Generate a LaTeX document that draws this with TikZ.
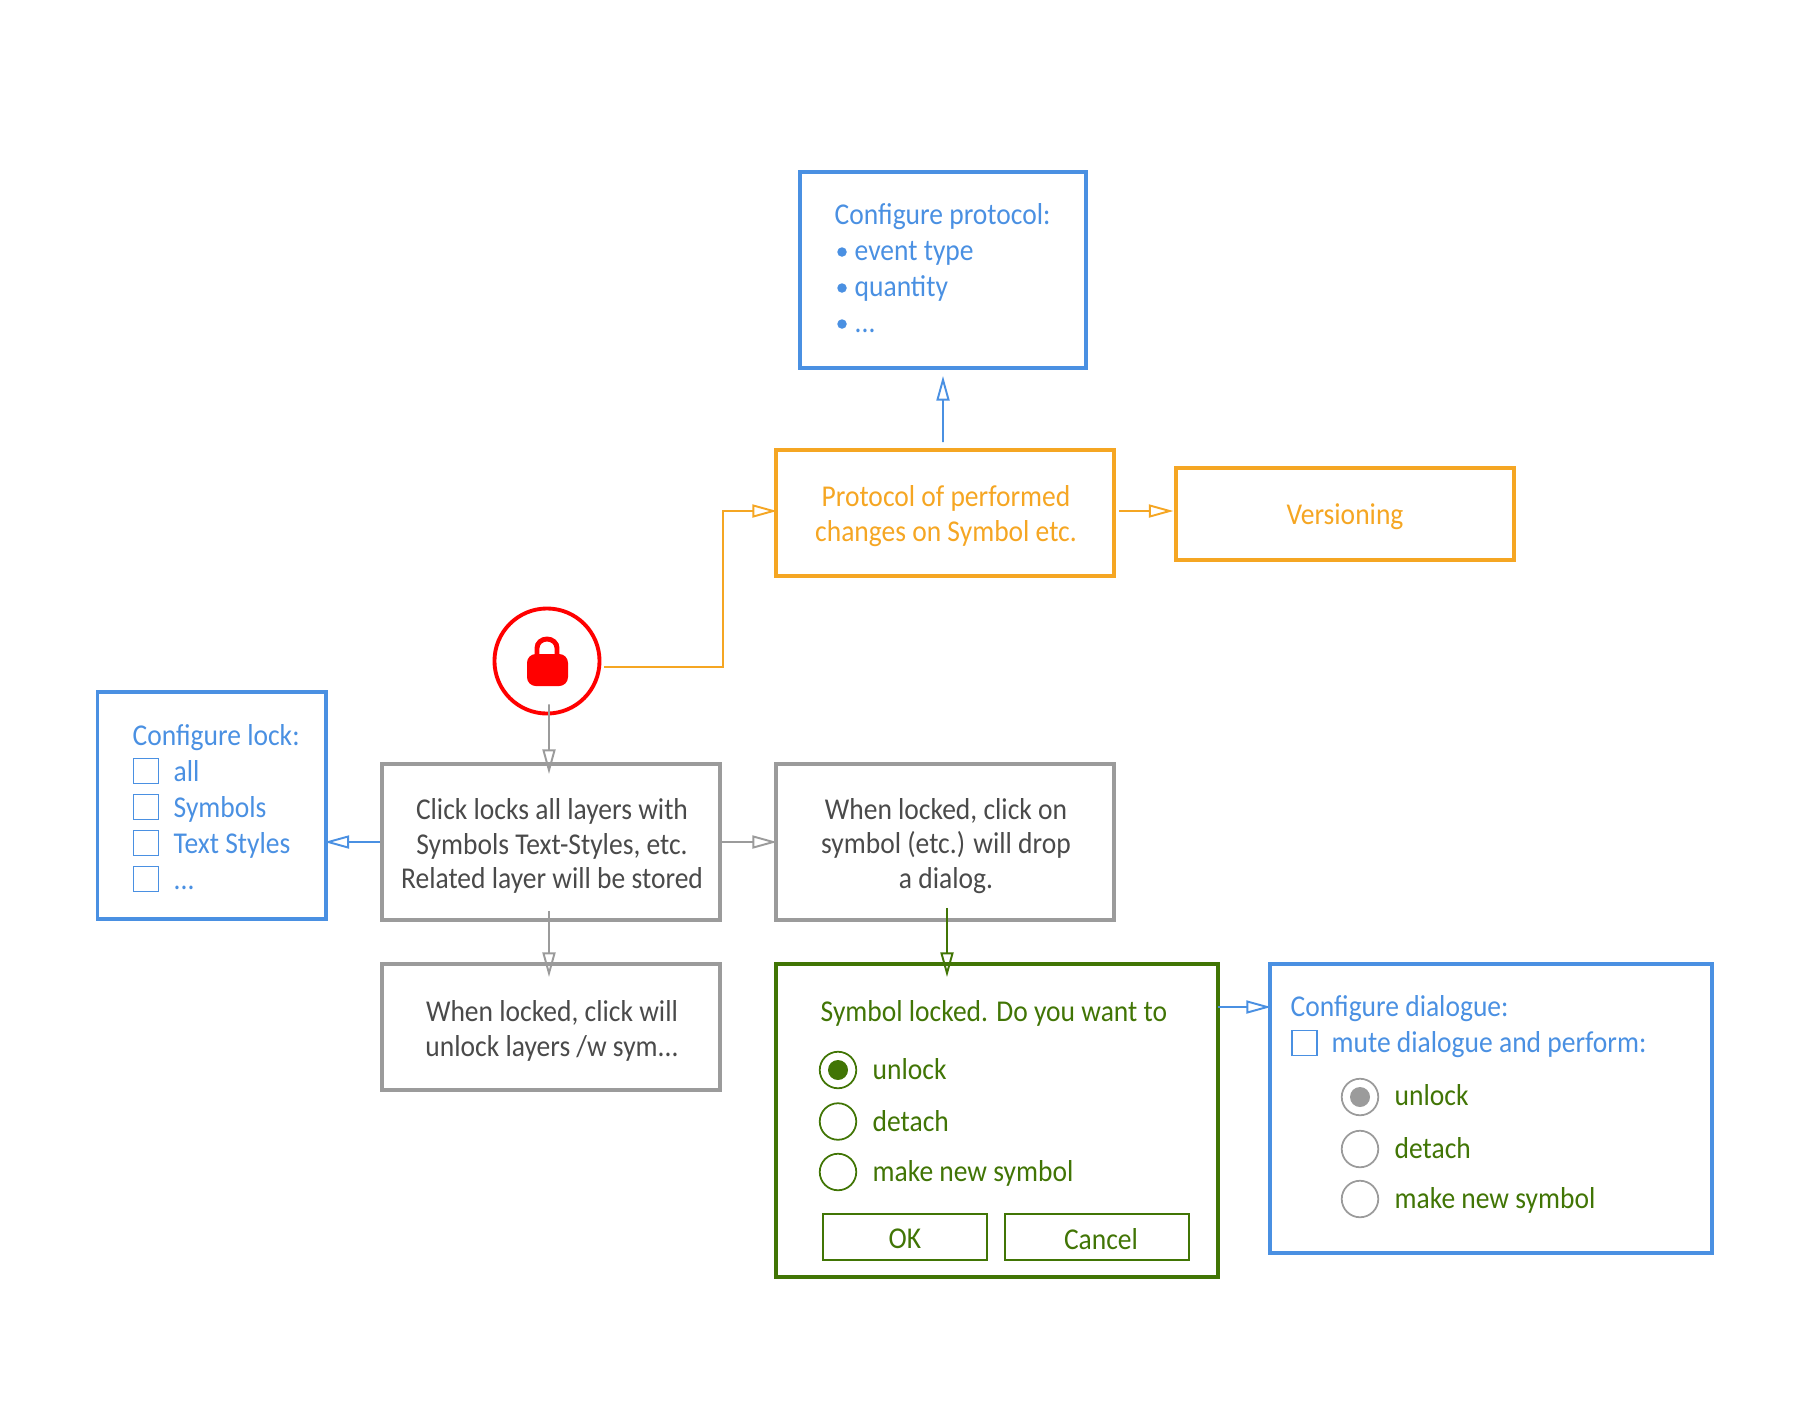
\documentclass[tikz,border=0pt]{standalone}
\usepackage{fontspec}
\setmainfont[FakeStretch=0.91]{Carlito}
\usetikzlibrary{arrows.meta}

\definecolor{skblue}{HTML}{4A90E2}
\definecolor{skorange}{HTML}{F5A623}
\definecolor{skgrey}{HTML}{9B9B9B}
\definecolor{skgreen}{HTML}{417505}
\definecolor{sktext}{HTML}{4A4A4A}

\newcommand{\diagfont}{\fontsize{8.6}{9.72}\selectfont}

\tikzset{
  box/.style={draw,rectangle,line width=1.1pt,inner sep=0pt},
  bluebox/.style={box,draw=skblue},
  orangebox/.style={box,draw=skorange},
  greybox/.style={box,draw=skgrey},
  greenbox/.style={box,draw=skgreen},
  boxtext/.style={inner sep=0pt,align=center,font=\diagfont},
  btn/.style={draw=skgreen,rectangle,line width=0.55pt,inner sep=0pt},
  lbl/.style={anchor=base west,inner sep=0pt,font=\diagfont},
  radio/.style={draw,circle,line width=0.5pt,inner sep=0pt,minimum size=0.365cm},
  tickbox/.style={draw=skblue,rectangle,line width=0.55pt,inner sep=0pt,minimum size=0.25cm},
  dot/.style={circle,inner sep=0pt,minimum size=0.2cm},
  bull/.style={circle,fill=skblue,inner sep=0pt,minimum size=0.095cm},
  conn/.style={line width=0.55pt,-{Triangle[open,length=7pt,width=3.7pt]}}
}

\begin{document}
\begin{tikzpicture}[x=0.01cm,y=-0.01cm]
\useasboundingbox (0,0) rectangle (1820,1402);

% top row
\node (protoconf) [bluebox,minimum width=2.85cm,minimum height=1.96cm] at (943,270) {};
\node (protobox) [orangebox,minimum width=3.38cm,minimum height=1.26cm] at (945,513) {};
\node (prototxt) [boxtext,text=skorange] at (946,516) {Protocol of performed\\changes on Symbol etc.};
\node (versbox) [orangebox,minimum width=3.37cm,minimum height=0.92cm] at (1345,514) {};
\node (verstxt) [boxtext,text=skorange] at (1345,517) {Versioning};

% lock
\node (lockring) [draw=red,circle,line width=1.1pt,inner sep=0pt,minimum size=1.05cm] at (547,661) {};
\draw [red,line width=1.4pt] (537,656)--(537,648) arc (180:0:0.1cm and 0.09cm)--(557,656);
\fill [red,rounded corners=2.5pt] (527,654) rectangle (568,686);

% middle row
\node (lockconf) [bluebox,minimum width=2.28cm,minimum height=2.27cm] at (211.5,805.5) {};
\node (clickbox) [greybox,minimum width=3.38cm,minimum height=1.56cm] at (551,842) {};
\node (clicktxt) [boxtext,text=sktext] at (552,846) {Click locks all layers with\\Symbols Text-Styles, etc.\\Related layer will be stored};
\node (dropbox) [greybox,minimum width=3.38cm,minimum height=1.56cm] at (945,842) {};
\node (droptxt) [boxtext,text=sktext] at (946,846) {When locked, click on\\symbol (etc.) will drop\\a dialog.};

% bottom row
\node (unlockbox) [greybox,minimum width=3.38cm,minimum height=1.26cm] at (551,1027) {};
\node (unlocktxt) [boxtext,text=sktext] at (552,1031) {When locked, click will\\unlock layers /w sym...};
\node (dlgbox) [greenbox,minimum width=4.42cm,minimum height=3.13cm] at (997,1120.5) {};
\node (muteconf) [bluebox,minimum width=4.42cm,minimum height=2.89cm] at (1491,1108.5) {};

% protocol list
\node (prototitle) [lbl,text=skblue] at (834,224.5) {Configure protocol:};
\node (protob1) [bull] at (842,252) {};
\node (protob2) [bull] at (842,288) {};
\node (protob3) [bull] at (842,324) {};
\node (protot1) [lbl,text=skblue] at (854,260.5) {event type};
\node (protot2) [lbl,text=skblue] at (854,296.5) {quantity};
\node (protot3) [lbl,text=skblue] at (854,332.5) {...};

% lock list
\node (locktitle) [lbl,text=skblue] at (132,745) {Configure lock:};
\node (lockc1) [tickbox] at (146,771) {};
\node (lockc2) [tickbox] at (146,807) {};
\node (lockc3) [tickbox] at (146,843) {};
\node (lockc4) [tickbox] at (146,879) {};
\node (lockt1) [lbl,text=skblue] at (173,781) {all};
\node (lockt2) [lbl,text=skblue] at (173,817) {Symbols};
\node (lockt3) [lbl,text=skblue] at (173,853) {Text Styles};
\node (lockt4) [lbl,text=skblue] at (173,889) {...};

% dialog
\node (dlgtitle) [lbl,text=skgreen] at (820,1021) {Symbol locked. Do you want to};
\node (dlgr1) [radio,draw=skgreen] at (838,1070) {};
\node (dlgr2) [radio,draw=skgreen] at (838,1121.5) {};
\node (dlgr3) [radio,draw=skgreen] at (838,1172) {};
\node (dlgdot) [dot,fill=skgreen] at (838,1070) {};
\node (dlgt1) [lbl,text=skgreen] at (872,1079) {unlock};
\node (dlgt2) [lbl,text=skgreen] at (872,1131) {detach};
\node (dlgt3) [lbl,text=skgreen] at (872,1181) {make new symbol};
\node (okbtn) [btn,minimum width=1.64cm,minimum height=0.46cm] at (905,1237) {};
\node (oktxt) [boxtext,text=skgreen] at (905,1239) {OK};
\node (cancelbtn) [btn,minimum width=1.84cm,minimum height=0.46cm] at (1097,1237) {};
\node (canceltxt) [boxtext,text=skgreen] at (1101,1239) {Cancel};

% dialogue settings
\node (mutetitle) [lbl,text=skblue] at (1290,1016) {Configure dialogue:};
\node (mutec) [tickbox] at (1304.5,1043) {};
\node (mutet) [lbl,text=skblue] at (1331,1052) {mute dialogue and perform:};
\node (muter1) [radio,draw=skgrey] at (1360,1097) {};
\node (muter2) [radio,draw=skgrey] at (1360,1149) {};
\node (muter3) [radio,draw=skgrey] at (1360,1199) {};
\node (mutedot) [dot,fill=skgrey] at (1360,1097) {};
\node (mutet1) [lbl,text=skgreen] at (1394,1105) {unlock};
\node (mutet2) [lbl,text=skgreen] at (1394,1158) {detach};
\node (mutet3) [lbl,text=skgreen] at (1394,1208) {make new symbol};

% connectors
\coordinate (elbow) at (723,511);
\coordinate (dlgexit) at (1218,1007);
\draw [conn,skorange,shorten >=-0.03cm] ([yshift=-0.06cm,xshift=0.03cm]lockring.east)-|(elbow)--(elbow-|protobox.west);
\draw [conn,skblue,shorten >=0.06cm,shorten <=0.06cm] ([xshift=-0.02cm]protobox.north)--(protoconf.south);
\draw [conn,skorange,shorten >=-0.03cm] ([xshift=0.03cm,yshift=0.02cm]protobox.east)--([xshift=-0.04cm,yshift=0.03cm]versbox.west);
\draw [conn,skgrey,shorten <=-0.11cm,shorten >=-0.12cm] ([xshift=0.02cm]lockring.south)--([xshift=-0.02cm]clickbox.north);
\draw [conn,skblue,shorten >=-0.03cm] (clickbox.west)--(clickbox.west-|lockconf.east);
\draw [conn,skgrey,shorten >=-0.03cm] (clickbox.east)--(dropbox.west);
\draw [conn,skgrey,shorten <=-0.11cm,shorten >=-0.15cm] ([xshift=-0.02cm]clickbox.south)--([xshift=-0.02cm]unlockbox.north);
\draw [conn,skgreen,shorten <=-0.14cm,shorten >=-0.15cm] ([xshift=0.02cm]dropbox.south)--([xshift=0.02cm]dropbox.south|-dlgbox.north);
\draw [conn,skblue,shorten >=-0.03cm] (dlgexit)--(dlgexit-|muteconf.west);

\end{tikzpicture}
\end{document}
